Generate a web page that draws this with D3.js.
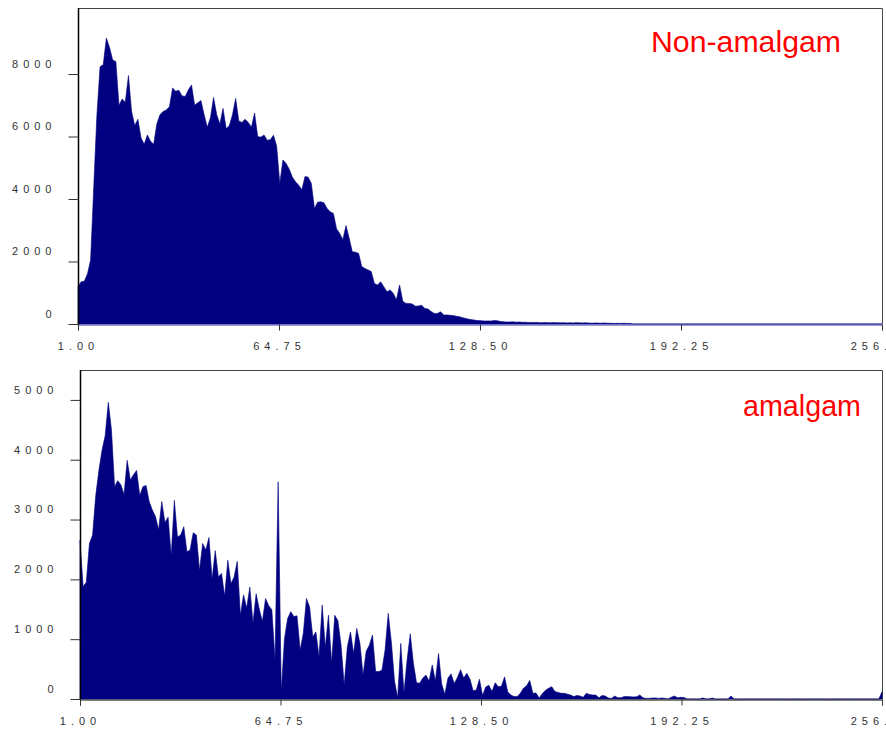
<!DOCTYPE html>
<html>
<head>
<meta charset="utf-8">
<script src="https://cdn.jsdelivr.net/npm/d3@7"></script>
<style>
  body { margin: 0; background: #fff; }
  .tick text { font-family: "Liberation Sans", Arial, sans-serif; font-size: 11px; letter-spacing: 5px; fill: #333; }
  .label { font-family: "Liberation Sans", Arial, sans-serif; fill: #ff0000; }
</style>
</head>
<body>
<div id="chart"></div>
<script>
// histogram counts per grey level (bins 1..256)
const nonAmalgam = [
    1200, 1350, 1370, 1600, 2050, 4400, 6700, 8235, 8300, 9150,
    8850, 8450, 8400, 7000, 7200, 7100, 7950, 6800, 6350, 6550,
    5950, 5750, 6050, 5850, 5750, 6400, 6700, 6800, 6850, 6950,
    7550, 7450, 7480, 7300, 7280, 7490, 7650, 7000, 7080, 7150,
    6700, 6300, 6600, 7250, 6700, 6400, 6900, 6250, 6350, 6700,
    7220, 6500, 6450, 6550, 6450, 6300, 6750, 6000, 5980, 6050,
    5880, 5900, 6040, 5700, 4500, 5250, 5140, 4950, 4700, 4550,
    4440, 4300, 4720, 4700, 4500, 3700, 3900, 3910, 3880, 3700,
    3590, 3540, 3050, 2900, 2700, 3150, 2750, 2310, 2300, 2260,
    1840, 1780, 1730, 1680, 1300, 1250, 1350, 1190, 1030, 1090,
    980, 780, 1250, 730, 660, 660, 640, 570, 580, 600,
    500, 480, 400, 340, 340, 390, 290, 290, 280, 270,
    250, 235, 200, 180, 150, 140, 120, 110, 105, 95,
    100, 95, 110, 105, 80, 70, 65, 65, 70, 60,
    64, 55, 55, 50, 48, 52, 45, 40, 48, 42,
    40, 45, 40, 38, 44, 36, 40, 35, 42, 38,
    35, 40, 30, 28, 34, 30, 28, 32, 26, 22,
    20, 22, 20, 22, 20, 20, 0, 0, 0, 0,
    0, 0, 0, 0, 0, 0, 0, 0, 0, 0,
    0, 0, 0, 0, 0, 0, 0, 0, 0, 0,
    0, 0, 0, 0, 0, 0, 0, 0, 0, 0,
    0, 0, 0, 0, 0, 0, 0, 0, 0, 0,
    0, 0, 0, 0, 0, 0, 0, 0, 0, 0,
    0, 0, 0, 0, 0, 0, 0, 0, 0, 0,
    0, 0, 0, 0, 0, 0, 0, 0, 0, 0,
    0, 0, 0, 0, 0, 0
];

const amalgam = [
    2650, 1880, 1950, 2600, 2740, 3400, 3820, 4160, 4400, 4960,
    4500, 3550, 3650, 3580, 3420, 3990, 3660, 3750, 3820, 3400,
    3550, 3570, 3300, 3160, 3050, 2830, 3300, 2950, 3040, 2400,
    3320, 2710, 2740, 2880, 2460, 2490, 2780, 2740, 2150, 2600,
    2490, 2700, 2000, 2480, 2040, 2100, 1720, 2320, 1930, 2040,
    2300, 1400, 1740, 1520, 1870, 1270, 1760, 1500, 1300, 1680,
    1560, 1490, 650, 3630, 130, 1000, 1340, 1460, 1380, 1390,
    820, 1100, 1680, 1540, 1040, 1120, 710, 1570, 860, 1400,
    600, 1400, 1310, 900, 240, 870, 1120, 760, 1180, 930,
    400, 800, 900, 1070, 460, 460, 480, 820, 1430, 950,
    300, 20, 930, 100, 650, 1090, 600, 270, 265, 350,
    400, 300, 570, 300, 760, 250, 80, 350, 420, 260,
    360, 490, 350, 430, 330, 140, 150, 330, 60, 200,
    230, 125, 270, 206, 215, 370, 120, 65, 40, 40,
    95, 180, 220, 310, 95, 100, 15, 90, 145, 180,
    206, 125, 110, 95, 95, 80, 65, 40, 60, 50,
    28, 95, 75, 67, 65, 20, 60, 50, 15, 10,
    50, 20, 20, 40, 40, 38, 35, 38, 67, 20,
    10, 10, 17, 17, 10, 17, 10, 0, 30, 50,
    20, 28, 25, 0, 0, 0, 0, 0, 17, 0,
    0, 17, 0, 0, 0, 0, 0, 50, 0, 0,
    0, 0, 0, 0, 0, 0, 0, 0, 0, 0,
    0, 0, 0, 0, 0, 0, 0, 0, 0, 0,
    0, 0, 0, 0, 0, 0, 0, 0, 0, 0,
    0, 0, 0, 0, 0, 0, 0, 0, 0, 0,
    0, 0, 0, 0, 0, 120
];

const xTicks = [1, 64.75, 128.5, 192.25, 256];
const yTicksTop = [0, 2000, 4000, 6000, 8000];
const yTicksBottom = [0, 1000, 2000, 3000, 4000, 5000];

const width = 886, height = 729;

const svg = d3.select("#chart").append("svg")
    .attr("width", width)
    .attr("height", height);

function panel(data, opt) {
    const x = d3.scaleLinear().domain([1, 256]).range([opt.left, opt.right]);
    const y = d3.scaleLinear().domain([0, opt.yMax]).range([opt.bottom, opt.top]);
    const g = svg.append("g");

    // frame (top + right)
    g.append("path")
        .attr("d", `M${opt.left},${opt.top + 0.5}H${opt.right + 0.5}V${opt.bottom}`)
        .attr("fill", "none")
        .attr("stroke", "#444");

    const area = d3.area()
        .x((d, i) => x(i + 1))
        .y0(y(0))
        .y1(d => y(d));

    g.append("path")
        .datum(data)
        .attr("d", area)
        .attr("fill", "#000080")
        .attr("stroke", "#000080")
        .attr("stroke-width", 0.6);

    const xAxis = g.append("g")
        .attr("transform", `translate(0,${opt.bottom + 0.5})`)
        .call(d3.axisBottom(x).tickValues(xTicks).tickFormat(d3.format(".2f")).tickSize(6).tickPadding(12));
    xAxis.select(".domain").attr("stroke", opt.baseColor);
    xAxis.selectAll(".tick line").attr("stroke", "#333");

    const yAxis = g.append("g")
        .attr("transform", `translate(${opt.left + 0.5},0)`)
        .call(d3.axisLeft(y).tickValues(opt.yTicks).tickFormat(d3.format("d")).tickSize(10).tickPadding(12));
    yAxis.select(".domain").attr("d", `M0,${opt.top}V${opt.bottom + 0.5}`).attr("stroke", "#000").attr("stroke-width", 1.5);
    yAxis.selectAll(".tick line").attr("stroke", "#333");
    yAxis.selectAll(".tick text").attr("dy", "-0.6em");

    g.append("text")
        .attr("class", "label")
        .attr("x", opt.labelX)
        .attr("y", opt.labelY)
        .attr("font-size", 30)
        .attr("textLength", opt.labelLen)
        .attr("lengthAdjust", "spacingAndGlyphs")
        .text(opt.label);
}

panel(nonAmalgam, {
    left: 78, right: 882, top: 8, bottom: 324, yMax: 10112,
    yTicks: yTicksTop, baseColor: "#3333aa",
    label: "Non-amalgam", labelX: 651, labelY: 52, labelLen: 190
});

panel(amalgam, {
    left: 80, right: 882, top: 370, bottom: 699, yMax: 5500,
    yTicks: yTicksBottom, baseColor: "#000",
    label: "amalgam", labelX: 743, labelY: 416, labelLen: 118
});
</script>
</body>
</html>
